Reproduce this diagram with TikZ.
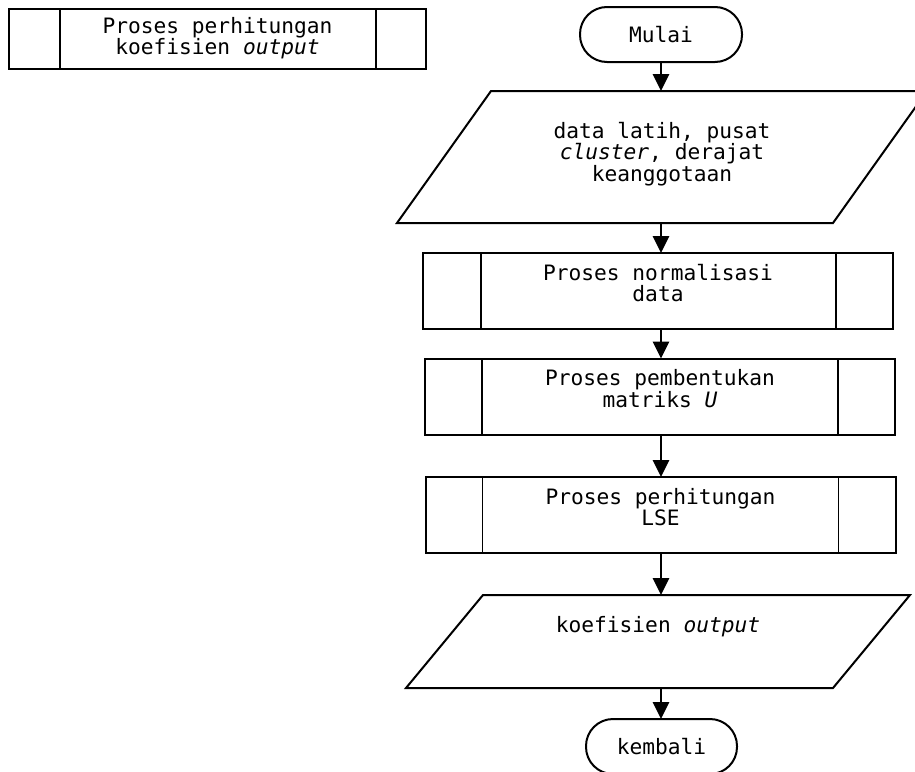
\documentclass[tikz,border=0pt]{standalone}
\usepackage{fontspec}
\setmonofont{DejaVu Sans Mono}
\usetikzlibrary{arrows.meta,calc}

\tikzset{
  lbl/.style={font=\ttfamily\fontsize{21.2}{21.5}\selectfont, align=center, inner sep=0pt},
  frame/.style={draw=black, line width=2pt, inner sep=0pt, outer sep=0pt},
  hidden/.style={inner sep=0pt, outer sep=0pt},
  terminal/.style={frame, rounded corners=27pt, minimum height=55pt},
  subproc/.style={frame, minimum height=76pt, minimum width=470pt},
  flow/.style={line width=2.8pt, -{Triangle[width=16pt,length=17pt]}},
  divider/.style={line width=1.4pt}
}

% draws the two inner bars of a predefined-process box
\newcommand{\procbars}[3]{%
  \draw[divider] ([xshift=#2pt]#1.north west) -- ([xshift=#2pt]#1.south west);
  \draw[divider] ([xshift=-#3pt]#1.north east) -- ([xshift=-#3pt]#1.south east);
}
% draws a parallelogram inside the bounding rectangle of a node
\newcommand{\ioshape}[2]{%
  \draw[line width=2pt, line join=miter]
    ([xshift=#2pt]#1.north west) -- (#1.north east)
    -- ([xshift=-#2pt]#1.south east) -- (#1.south west) -- cycle;
}

\begin{document}
\begin{tikzpicture}[x=1pt, y=-1pt]
  \useasboundingbox (0,0) rectangle (915,771);
  \clip (0,0) rectangle (915,771);

  % sub-process title box
  \node[frame, minimum width=417pt, minimum height=60pt] (title) at (217.5,39) {};
  \procbars{title}{51}{50}
  \node[lbl] (titletext) at ([yshift=1pt]title.center) {Proses perhitungan\\koefisien \textit{output}};

  % start
  \node[terminal, minimum width=162pt] (mulai) at (661,34.5) {};
  \node[lbl] (mulaitext) at (mulai.center) {Mulai};

  % input
  \node[hidden, minimum width=530pt, minimum height=132pt] (in1) at (662,157) {};
  \ioshape{in1}{94}
  \node[lbl] (in1text) at ([yshift=3pt]in1.center) {data latih, pusat\\\textit{cluster}, derajat\\keanggotaan};

  % processes
  \node[subproc] (p1) at (658,291) {};
  \procbars{p1}{58}{57}
  \node[lbl, anchor=north] (p1text) at ([yshift=-11pt]p1.north) {Proses normalisasi\\data};

  \node[subproc] (p2) at (660,396.5) {};
  \procbars{p2}{57}{57}
  \node[lbl, anchor=north] (p2text) at ([yshift=-11pt]p2.north) {Proses pembentukan\\matriks \textit{U}};

  \node[subproc] (p3) at (660.5,515) {};
  \procbars{p3}{57}{57}
  \node[lbl, anchor=north] (p3text) at ([yshift=-11pt]p3.north) {Proses perhitungan\\LSE};

  % output
  \node[hidden, minimum width=504pt, minimum height=93pt] (out1) at (658,641.5) {};
  \ioshape{out1}{77}
  \node[lbl, anchor=north] (out1text) at ([yshift=-21pt]out1.north) {koefisien \textit{output}};

  % end
  \node[terminal, minimum width=151pt] (kembali) at (661.5,746.5) {};
  \node[lbl] (kembalitext) at (kembali.center) {kembali};

  % connectors
  \draw[flow] (mulai.south) -- (mulai.south |- in1.north);
  \draw[flow] (in1.south -| mulai.south) -- (mulai.south |- p1.north);
  \draw[flow] (p1.south -| mulai.south) -- (mulai.south |- p2.north);
  \draw[flow] (p2.south -| mulai.south) -- (mulai.south |- p3.north);
  \draw[flow] (p3.south -| mulai.south) -- (mulai.south |- out1.north);
  \draw[flow] (out1.south -| mulai.south) -- (mulai.south |- kembali.north);
\end{tikzpicture}
\end{document}
